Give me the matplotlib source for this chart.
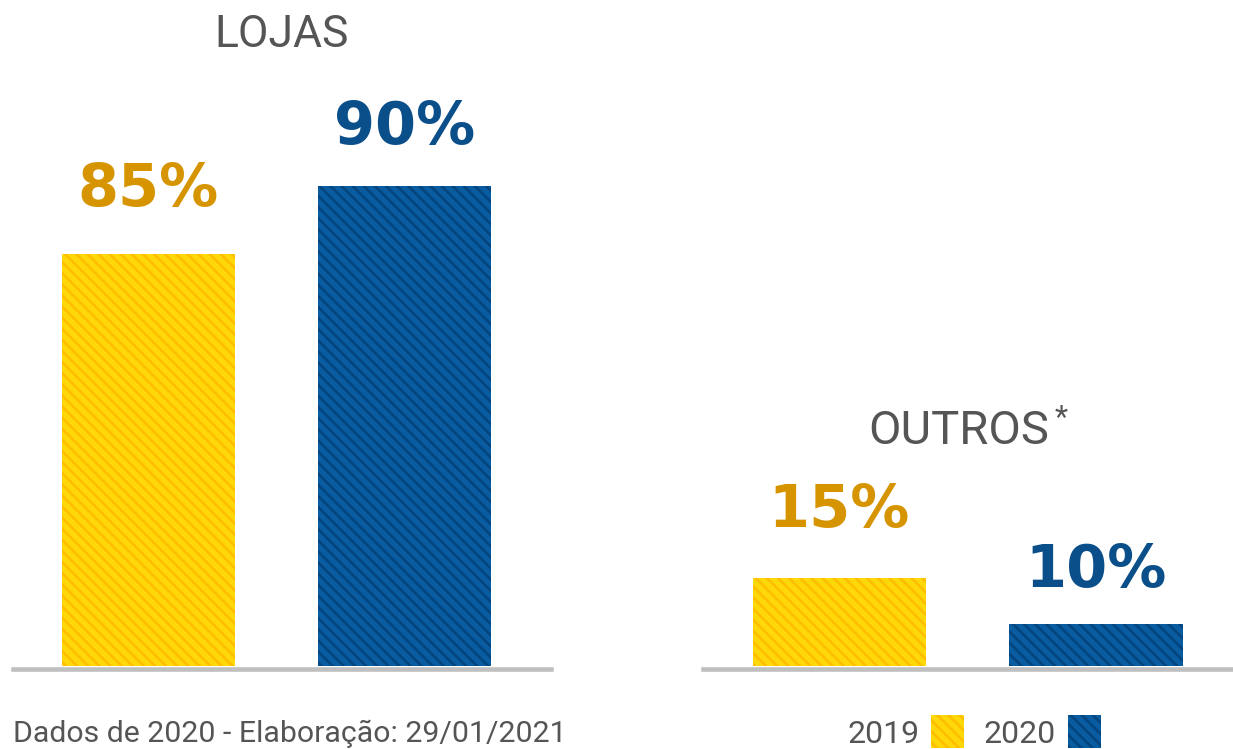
import matplotlib
matplotlib.use("Agg")
import matplotlib.pyplot as plt
from matplotlib.patches import Rectangle

# dados / data
anos = ["2019", "2020"]
lojas = [85, 90]
outros = [15, 10]
rotulos_lojas = ["85%", "90%"]
rotulos_outros = ["15%", "10%"]

# estilo
cor_barra = ["#FFD80A", "#0A5CA0"]
cor_listra = ["#FFBE00", "#03457E"]
cor_rotulo = ["#D69500", "#0B4F8A"]
cinza_txt = "#555555"
plt.rcParams["hatch.linewidth"] = 1.9

W, H = 1233, 749
fig = plt.figure(figsize=(W / 100, H / 100), dpi=100)
fig.patch.set_facecolor("white")


def px(x, y):
    # pixel (topo-esquerda) -> fração da figura
    return x / W, (H - y) / H


def painel(x0, x1, ylim, valores, rotulos, gaps, xlim):
    b = (H - 666) / H
    top = (H - ylim[2]) / H
    ax = fig.add_axes([x0 / W, b, (x1 - x0) / W, top - b])
    ax.bar(range(len(valores)), valores, width=0.676, color=cor_barra,
           edgecolor=cor_listra, linewidth=0, hatch="\\\\\\")
    ax.set_ylim(ylim[0], ylim[1])
    ax.set_xlim(*xlim)
    for s in ["top", "left", "right"]:
        ax.spines[s].set_visible(False)
    ax.spines["bottom"].set_color("#BFBFBF")
    ax.spines["bottom"].set_linewidth(3.3)
    ax.spines["bottom"].set_position(("outward", 2.5))
    ax.set_xticks([])
    ax.set_yticks([])
    ax.patch.set_alpha(0)
    for i, (v, r) in enumerate(zip(valores, rotulos)):
        ax.annotate(r, (i, v), xytext=(0, gaps[i] / 1.389), textcoords="offset points",
                    ha="center", va="baseline", fontsize=42.5, fontweight="bold",
                    family="DejaVu Sans", color=cor_rotulo[i])
    return ax


painel(13, 551, (54.71, 99.27, 60), lojas, rotulos_lojas, [48, 42], (-0.529, 1.572))
painel(703, 1233, (5.435, 36.52, 380), outros, rotulos_outros, [51, 37], (-0.532, 1.534))

leve = dict(family="Roboto", fontweight="normal", color=cinza_txt)
fig.text(*px(282, 47), "LOJAS", ha="center", va="baseline", fontsize=32, **leve)
fig.text(*px(959, 444), "OUTROS", ha="center", va="baseline", fontsize=34, **leve)
fig.text(*px(1061, 404), "*", ha="center", va="top", fontsize=22, **leve)
fig.text(*px(13, 742), "Dados de 2020 - Elaboração: 29/01/2021", ha="left",
         va="baseline", fontsize=21.8, **leve)

# legenda
for ano, xt, xr, c, l in zip(anos, [920, 1056], [931, 1068], cor_barra, cor_listra):
    fig.text(*px(xt, 743), ano, ha="right", va="baseline", fontsize=23, **leve)
    x, y = px(xr, 748)
    fig.add_artist(Rectangle((x, y), 33 / W, 33 / H, transform=fig.transFigure,
                             facecolor=c, edgecolor=l, linewidth=0, hatch="\\\\\\"))

fig.savefig("out.png", dpi=100)
